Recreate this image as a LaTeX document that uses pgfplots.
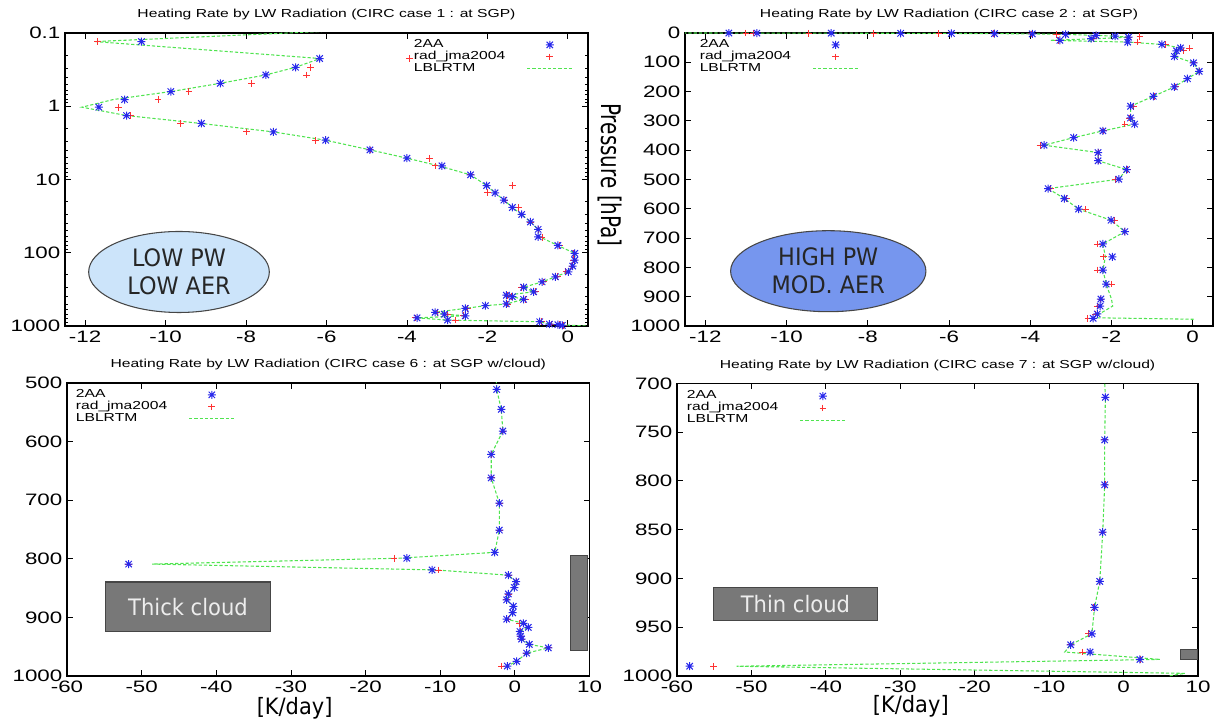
\documentclass[border=0pt]{standalone}
\usepackage{fontspec}
\setmainfont{Liberation Sans}[FakeStretch=1.35]
\newfontfamily\boxfont{DejaVu Sans}[FakeStretch=0.93]
\newfontfamily\labfont{DejaVu Sans}
\usepackage{graphicx}
\usepackage{pgfplots}
\pgfplotsset{compat=1.18}
\usetikzlibrary{shapes.geometric}

\definecolor{gpblue}{RGB}{40,40,235}
\definecolor{gpred}{RGB}{255,50,50}
\definecolor{gpgreen}{RGB}{80,228,80}
\definecolor{lowfill}{RGB}{204,228,250}
\definecolor{highfill}{RGB}{118,150,238}
\definecolor{cloudgray}{RGB}{120,120,120}
\definecolor{edgegray}{RGB}{70,70,70}

% gnuplot point type 3: + and x on top of each other
\pgfdeclareplotmark{gpstar}{%
  \pgfpathmoveto{\pgfqpoint{-\pgfplotmarksize}{0pt}}\pgfpathlineto{\pgfqpoint{\pgfplotmarksize}{0pt}}%
  \pgfpathmoveto{\pgfqpoint{0pt}{-\pgfplotmarksize}}\pgfpathlineto{\pgfqpoint{0pt}{\pgfplotmarksize}}%
  \pgfpathmoveto{\pgfqpoint{-0.8\pgfplotmarksize}{-0.8\pgfplotmarksize}}\pgfpathlineto{\pgfqpoint{0.8\pgfplotmarksize}{0.8\pgfplotmarksize}}%
  \pgfpathmoveto{\pgfqpoint{-0.8\pgfplotmarksize}{0.8\pgfplotmarksize}}\pgfpathlineto{\pgfqpoint{0.8\pgfplotmarksize}{-0.8\pgfplotmarksize}}%
  \pgfusepathqstroke}

\pgfplotsset{
  gp/.style={
    scale only axis, anchor=south west,
    axis line style={line width=0.8pt},
    tick style={black, line width=0.6pt},
    major tick length=4.5pt, minor tick length=2.5pt,
    tick align=inside,
    y dir=reverse,
    tick label style={font=\fontsize{12.4}{12.5}\selectfont},
    title style={font=\fontsize{8.7}{9}\selectfont, at={(0.5,1)}, anchor=center, yshift=7.7pt},
    legend plot pos=right,
    legend image code/.code={\draw[mark repeat=2,mark phase=2,##1] plot coordinates {(0pt,0pt)(17pt,0pt)(34pt,0pt)};},
    legend style={draw=none, fill=none, anchor=north west, inner sep=0pt, outer sep=0pt,
      font=\fontsize{8.7}{9}\selectfont, column sep=16pt, row sep=0pt,
      nodes={inner sep=0pt, text height=6.5pt, text depth=2.5pt}, cells={anchor=west}},
    reverse legend,
  },
  aa/.style={only marks, mark=gpstar, mark size=3pt, gpblue, mark options={line width=0.75pt}},
  jma/.style={only marks, mark=+, mark size=2.5pt, gpred, mark options={line width=0.65pt}},
  lbl/.style={no marks, gpgreen, line width=0.8pt, dash pattern=on 2.4pt off 1.5pt},
}

\begin{document}
\begin{tikzpicture}
\useasboundingbox (0,0) rectangle (915.75pt,543pt);

% ---------- case 1 ----------
\begin{axis}[gp, at={(48.75pt,298.5pt)}, width=392.25pt, height=219.75pt,
  title={Heating Rate by LW Radiation (CIRC case 1 : at SGP)},
  xmin=-12.5, xmax=0.5, ymode=log, ymin=0.1, ymax=1000,
  xtick={-12,-10,-8,-6,-4,-2,0}, xticklabels={-12,-10,-8,-6,-4,-2,0},
  ytick={0.1,1,10,100,1000}, yticklabels={0.1,1,10,100,1000},
  minor ytick={0.2,0.3,0.4,0.5,0.6,0.7,0.8,0.9,2,3,4,5,6,7,8,9,20,30,40,50,60,70,80,90,200,300,400,500,600,700,800,900},
  legend style={at={(0.667,0.98)}},
]
\addplot[lbl] coordinates {
(-4.9,0.089) (-11.75,0.131) (-6.16,0.223) (-6.77,0.294) (-7.51,0.374) (-8.64,0.486)
(-9.87,0.63) (-11.3,0.81) (-12.08,1.03) (-10.97,1.34) (-9.11,1.72) (-7.32,2.24)
(-6.02,2.91) (-4.92,3.94) (-4.0,5.12) (-3.2,6.52) (-2.42,8.65) (-2.02,12.1)
(-1.81,15.2) (-1.59,19.1) (-1.38,24.1) (-1.15,30) (-0.93,38) (-0.74,48)
(-0.70,60.6) (-0.25,79.6) (0.17,102) (0.17,126) (0.12,152) (0.01,182)
(-0.31,213) (-0.64,250) (-1.10,296) (-0.85,341) (-1.53,380) (-1.38,398)
(-1.10,433) (-1.53,500) (-2.05,528) (-2.55,575) (-3.30,650) (-3.07,690)
(-2.55,725) (-3.75,775) (-2.99,830) (-0.70,875) (-0.46,944) (-0.25,960) (0.45,1000)
};
\addlegendentry{LBLRTM}
\addplot[jma] coordinates {
(-11.69,0.131) (-3.94,0.223) (-6.39,0.294) (-6.50,0.374) (-7.86,0.486) (-9.42,0.63)
(-10.19,0.81) (-11.17,1.03) (-10.87,1.34) (-9.63,1.72) (-7.99,2.24) (-6.28,2.91)
(-4.92,3.94) (-3.44,5.12) (-3.30,6.52) (-2.42,8.65) (-1.38,12.1) (-2.0,15.2)
(-1.56,19.1) (-1.22,24.1) (-1.15,30) (-0.93,38) (-0.74,48) (-0.64,61.6)
(-0.2,79.6) (0.15,102) (0.14,126) (0.10,152) (-0.05,182) (-0.25,213)
(-0.6,250) (-1.15,296) (-0.8,341) (-1.5,380) (-1.4,398) (-1.05,433)
(-1.5,500) (-2.05,528) (-2.5,575) (-3.25,650) (-3.0,690) (-2.6,725)
(-3.8,775) (-2.8,830) (-0.65,875) (-0.4,944) (-0.2,960) (-0.1,980)
};
\addlegendentry{rad\_jma2004}
\addplot[aa] coordinates {
(-10.60,0.131) (-6.17,0.223) (-6.77,0.294) (-7.51,0.374) (-8.64,0.486) (-9.87,0.63)
(-11.02,0.81) (-11.66,1.03) (-10.97,1.34) (-9.11,1.72) (-7.32,2.24) (-6.02,2.91)
(-4.92,3.94) (-4.0,5.12) (-3.13,6.52) (-2.42,8.65) (-2.02,12.1) (-1.81,15.2)
(-1.59,19.1) (-1.38,24.1) (-1.15,30) (-0.93,38) (-0.74,48) (-0.74,60.6)
(-0.25,79.6) (0.17,102) (0.17,126) (0.12,152) (0.01,182) (-0.31,213)
(-0.64,250) (-1.10,296) (-0.85,341) (-1.53,380) (-1.38,398) (-1.10,433)
(-1.53,500) (-2.05,528) (-2.55,575) (-3.30,650) (-3.07,690) (-2.55,725)
(-3.75,775) (-2.99,830) (-0.70,875) (-0.46,944) (-0.25,960) (-0.14,980)
};
\addlegendentry{2AA}
\end{axis}

% ---------- case 2 ----------
\begin{axis}[gp, at={(513.75pt,298.5pt)}, width=396pt, height=219.75pt,
  title={Heating Rate by LW Radiation (CIRC case 2 : at SGP)},
  xmin=-12.5, xmax=0.5, ymin=0, ymax=1000,
  xtick={-12,-10,-8,-6,-4,-2,0}, xticklabels={-12,-10,-8,-6,-4,-2,0},
  ytick={0,100,...,1000}, yticklabels={0,100,200,300,400,500,600,700,800,900,1000},
  legend style={at={(0.028,0.98)}},
]
\addplot[lbl] coordinates {
(-12.8,0.05) (-11.42,0.15) (-10.73,0.3) (-8.90,0.6) (-7.19,1.0) (-5.94,1.5)
(-4.88,2.2) (-3.95,3.0) (-3.13,5.0) (-2.38,8) (-1.91,11) (-1.58,14)
(-2.3,19) (-3.5,25) (-1.60,31) (-0.76,39) (-0.30,51) (-0.40,61) (-0.45,80)
(0.02,102) (0.16,131) (-0.13,156) (-0.45,184) (-0.97,216) (-1.53,250)
(-1.53,290) (-1.43,311) (-2.21,334) (-2.93,357) (-3.66,383) (-2.33,408)
(-2.33,436) (-1.63,466) (-1.82,499) (-3.56,531) (-3.16,565) (-2.81,601)
(-2.01,639) (-1.67,678) (-2.21,720) (-2.15,764) (-2.21,809) (-2.13,857)
(-2.0,908) (-1.97,932) (-2.3,959) (-2.35,972) (0.02,977)
};
\addlegendentry{LBLRTM}
\addplot[jma] coordinates {
(-11.0,0.15) (-10.82,0.3) (-9.45,0.6) (-7.85,1.0) (-6.25,1.5) (-4.9,2.2)
(-3.98,3.0) (-3.36,5.0) (-2.38,8) (-1.30,11) (-1.58,14) (-2.45,19)
(-3.3,25) (-1.36,31) (-0.66,39) (-0.08,51) (-0.22,61) (-0.45,80)
(0.02,102) (0.16,131) (-0.12,156) (-0.42,184) (-0.95,216) (-1.45,250)
(-1.55,290) (-1.67,311) (-2.2,334) (-2.93,357) (-3.76,383) (-2.33,408)
(-2.33,436) (-1.6,466) (-1.9,499) (-3.5,531) (-3.1,565) (-2.64,601)
(-1.92,639) (-1.67,678) (-2.35,720) (-2.19,764) (-2.35,809) (-2.0,857)
(-2.26,908) (-2.35,932) (-2.4,959) (-2.58,974)
};
\addlegendentry{rad\_jma2004}
\addplot[aa] coordinates {
(-11.42,0.15) (-10.73,0.3) (-8.90,0.6) (-7.19,1.0) (-5.94,1.5) (-4.88,2.2)
(-3.95,3.0) (-3.13,5.0) (-2.38,8) (-1.91,11) (-1.58,14) (-2.50,19)
(-3.27,25) (-1.60,31) (-0.76,39) (-0.30,51) (-0.40,61) (-0.45,80)
(0.02,102) (0.16,131) (-0.13,156) (-0.45,184) (-0.97,216) (-1.53,250)
(-1.53,290) (-1.43,311) (-2.21,334) (-2.93,357) (-3.66,383) (-2.33,408)
(-2.33,436) (-1.63,466) (-1.82,499) (-3.56,531) (-3.16,565) (-2.81,601)
(-2.01,639) (-1.67,678) (-2.21,720) (-1.98,764) (-2.21,809) (-2.13,857)
(-2.26,908) (-2.28,932) (-2.35,959) (-2.45,974)
};
\addlegendentry{2AA}
\end{axis}

% ---------- case 6 ----------
\begin{axis}[gp, at={(50.25pt,36pt)}, width=391.9pt, height=219.75pt,
  title style={yshift=0.3pt},
  title={Heating Rate by LW Radiation (CIRC case 6 : at SGP w/cloud)},
  xmin=-60, xmax=10, ymin=500, ymax=1000,
  xtick={-60,-50,...,10}, xticklabels={-60,-50,-40,-30,-20,-10,0,10},
  ytick={500,600,...,1000}, yticklabels={500,600,700,800,900,1000},
  legend style={at={(0.017,0.98)}},
]
\fill[cloudgray, draw=edgegray, line width=0.6pt] (axis cs:7.4,795) rectangle (axis cs:9.75,956);
\addplot[lbl] coordinates {
(-2.5,495) (-2.44,511) (-1.82,545) (-1.61,582) (-3.17,622) (-3.17,662)
(-2.08,705) (-2.08,751) (-2.70,789) (-15.5,799) (-48.6,809) (-10.6,819)
(-0.88,828) (0.15,839) (-0.08,849) (-0.88,860) (-1.1,870) (-0.21,881)
(-0.3,892) (-1.1,903) (1.13,910) (1.80,917) (0.68,924) (0.77,932)
(0.90,937) (1.93,946) (4.48,952) (1.58,961) (0.24,975) (-1.02,983)
};
\addlegendentry{LBLRTM}
\addplot[jma] coordinates {
(-2.44,511) (-1.82,545) (-1.61,582) (-3.17,622) (-3.17,662)
(-2.08,705) (-2.08,751) (-2.70,789) (-16.2,799) (-51.74,809) (-10.2,819)
(-0.88,828) (0.15,839) (-0.08,849) (-0.88,860) (-1.1,870) (-0.21,881)
(-0.3,892) (-0.9,903) (0.6,910) (1.80,917) (0.68,924) (0.77,932)
(0.90,937) (1.93,946) (4.48,952) (1.58,961) (0.24,975) (-1.77,983)
};
\addlegendentry{rad\_jma2004}
\addplot[aa] coordinates {
(-2.44,511) (-1.82,545) (-1.61,582) (-3.17,622) (-3.17,662)
(-2.08,705) (-2.08,751) (-2.70,789) (-14.48,799) (-51.74,809) (-11.1,819)
(-0.88,828) (0.15,839) (-0.08,849) (-0.88,860) (-1.1,870) (-0.21,881)
(-0.3,892) (-1.1,903) (1.13,910) (1.80,917) (0.68,924) (0.77,932)
(0.90,937) (1.93,946) (4.48,952) (1.58,961) (0.24,975) (-1.02,983)
};
\addlegendentry{2AA}
\end{axis}

% ---------- case 7 ----------
\begin{axis}[gp, at={(507.75pt,36pt)}, width=390.75pt, height=219.5pt,
  title={Heating Rate by LW Radiation (CIRC case 7 : at SGP w/cloud)},
  xmin=-60, xmax=10, ymin=700, ymax=1000,
  xtick={-60,-50,...,10}, xticklabels={-60,-50,-40,-30,-20,-10,0,10},
  ytick={700,750,...,1000}, yticklabels={700,750,800,850,900,950,1000},
  legend style={at={(0.019,0.977)}},
]
\fill[cloudgray, draw=edgegray, line width=0.6pt] (axis cs:7.7,973) rectangle (axis cs:9.9,983);
\addplot[lbl] coordinates {
(-2.6,690) (-2.44,714.3) (-2.54,758) (-2.54,804) (-2.80,852.6) (-3.2,903)
(-3.9,929.7) (-4.26,956.7) (-7.1,968) (-7.9,975.4) (4.9,983) (-52.0,990)
(8.25,997.3) (6.0,1000)
};
\addlegendentry{LBLRTM}
\addplot[jma] coordinates {
(-2.44,714.3) (-2.54,758) (-2.50,804) (-2.85,852.6) (-3.3,903) (-4.0,929.7)
(-4.7,956.7) (-7.1,968) (-5.5,975.4) (2.3,983) (-55.1,990)
};
\addlegendentry{rad\_jma2004}
\addplot[aa] coordinates {
(-2.44,714.3) (-2.54,758) (-2.54,804) (-2.80,852.6) (-3.2,903) (-3.9,929.7)
(-4.26,956.7) (-7.1,968) (-4.5,975.4) (2.2,983) (-58.3,990)
};
\addlegendentry{2AA}
\end{axis}

% ---------- annotations ----------
\node[ellipse, draw=edgegray, line width=0.8pt, fill=lowfill, minimum width=135.5pt,
  minimum height=60.75pt, inner sep=0pt, align=center, text=black!85,
  font=\boxfont\fontsize{18}{21}\selectfont] at (134.25pt,339pt) {LOW PW\\LOW AER};
\node[ellipse, draw=edgegray, line width=0.8pt, fill=highfill, minimum width=146.5pt,
  minimum height=60.75pt, inner sep=0pt, align=center, text=black!85,
  font=\boxfont\fontsize{18}{21}\selectfont] at (621.2pt,339.6pt) {HIGH PW\\MOD. AER};
\node[rectangle, draw=edgegray, line width=0.8pt, fill=cloudgray, minimum width=123.2pt,
  minimum height=37pt, inner sep=0pt, text=black!7,
  font=\boxfont\fontsize{17}{17}\selectfont] at (141pt,88pt) {Thick cloud};
\node[rectangle, draw=edgegray, line width=0.8pt, fill=cloudgray, minimum width=123.45pt,
  minimum height=24.5pt, inner sep=0pt, text=black!7,
  font=\boxfont\fontsize{17}{17}\selectfont] at (596.55pt,90.2pt) {Thin cloud};
\node[inner sep=0pt] at (457.5pt,411.75pt)
  {\scalebox{1.35}[1]{\rotatebox{-90}{\labfont\fontsize{15}{15}\selectfont Pressure [hPa]}}};
\node[inner sep=0pt, font=\boxfont\fontsize{16.9}{17}\selectfont] at (220.95pt,12pt) {[K/day]};
\node[inner sep=0pt, font=\boxfont\fontsize{16.9}{17}\selectfont] at (683.1pt,13pt) {[K/day]};
\end{tikzpicture}
\end{document}
